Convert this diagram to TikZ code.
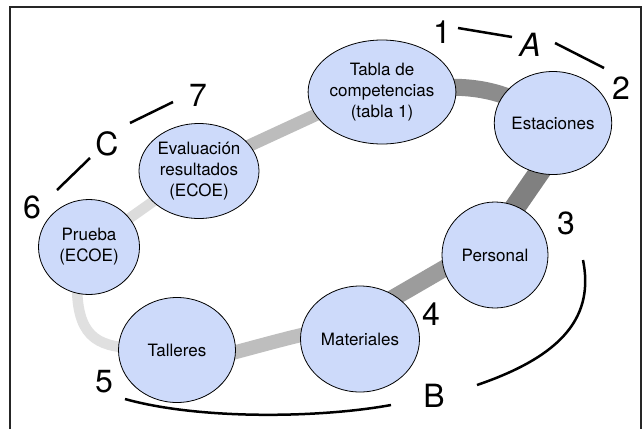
\documentclass[tikz,border=0pt]{standalone}
\usepackage{fontspec}
\setmainfont{TeX Gyre Heros}
\usetikzlibrary{shapes.geometric,backgrounds}
\definecolor{nodefill}{RGB}{205,218,250}
\definecolor{bandA}{RGB}{140,140,140}
\definecolor{bandB}{RGB}{128,128,128}
\definecolor{bandC}{RGB}{156,156,156}
\definecolor{bandD}{RGB}{190,190,190}
\definecolor{bandE}{RGB}{224,224,224}
\definecolor{bandF}{RGB}{220,220,220}
\definecolor{bandG}{RGB}{188,188,188}
\begin{document}
\begin{tikzpicture}[x=1pt,y=-1pt,
  stage/.style={ellipse, draw=black, line width=0.8pt, fill=nodefill, inner sep=0pt, align=center,
    font=\fontsize{17}{21}\selectfont},
  band/.style={line cap=butt},
  biglabel/.style={font=\fontsize{32}{32}\selectfont, inner sep=0pt},
  bracket/.style={line width=2.5pt, line cap=butt, black}]
\useasboundingbox (0,0) rectangle (644,429);

% stages
\node[stage, minimum width=127pt, minimum height=104pt] (tabla) at (382,92) {Tabla de\\competencias\\(tabla 1)};
\node[stage, minimum width=114pt, minimum height=103pt] (estaciones) at (553,123) {Estaciones};
\node[stage, minimum width=106pt, minimum height=106pt] (personal) at (495,255) {Personal};
\node[stage, minimum width=119pt, minimum height=106pt] (materiales) at (360,339) {Materiales};
\node[stage, minimum width=117pt, minimum height=105pt] (talleres) at (177,350) {Talleres};
\node[stage, minimum width=101pt, minimum height=95pt] (prueba) at (89,247) {Prueba\\(ECOE)};
\node[stage, minimum width=120pt, minimum height=95pt] (evaluacion) at (199,171) {Evaluación\\resultados\\(ECOE)};

% ring bands behind the stages
\begin{scope}[on background layer]
\fill[white] (0,0) rectangle (644,429);
\draw[band, bandA, line width=17pt] ([shift={(38,-2)}]tabla.center) .. controls (455,84) and (490,88) .. ([shift={(-38,-23)}]estaciones.center);
\draw[band, bandB, line width=21pt] ([shift={(3,25)}]estaciones.center) -- ([shift={(3,-23)}]personal.center);
\draw[band, bandC, line width=17pt] ([shift={(-25,-1.5)}]personal.center) -- ([shift={(15,-30.4)}]materiales.center);
\draw[band, bandD, line width=14pt] ([shift={(-30,-10)}]materiales.center) .. controls (290,336) and (240,352) .. ([shift={(23,11)}]talleres.center);
\draw[band, bandE, line width=10.5pt] ([shift={(-42,-2)}]talleres.center) .. controls (95,347) and (76,335) .. ([shift={(-12,33)}]prueba.center);
\draw[band, bandF, line width=10.5pt] ([shift={(21,-15)}]prueba.center) -- ([shift={(-24,15)}]evaluacion.center);
\draw[band, bandG, line width=12.5pt] ([shift={(31,-16.5)}]evaluacion.center) -- ([shift={(-37,9.4)}]tabla.center);
\draw[line width=1.3pt, black!85] (10,429) -- (10,7) -- (641,7) -- (641,429);
\end{scope}

% labels
\node[biglabel] (l1) at (442,32) {1};
\node[biglabel] (lA) at (530,45) {\itshape A};
\node[biglabel] (l2) at (621,88) {2};
\node[biglabel] (l3) at (566,223) {3};
\node[biglabel] (l4) at (431,314) {4};
\node[biglabel] (lB) at (434,396) {B};
\node[biglabel] (l5) at (104,382) {5};
\node[biglabel] (l6) at (32,207) {6};
\node[biglabel] (lC) at (107,144) {C};
\node[biglabel] (l7) at (198,95) {7};

% bracket ends
\coordinate (a1) at (458,28);
\coordinate (a2) at (512,37);
\coordinate (a3) at (555,43);
\coordinate (a4) at (604,68);
\coordinate (c1) at (130,123);
\coordinate (c2) at (173,102);
\coordinate (c3) at (90,158);
\coordinate (c4) at (57,190);
\coordinate (b1) at (583,260);
\coordinate (b2) at (477,385);
\coordinate (b3) at (125,399);
\coordinate (b4) at (391,405);

\draw[bracket] (a1) -- (a2);
\draw[bracket] (a3) -- (a4);
\draw[bracket] (c1) -- (c2);
\draw[bracket] (c3) -- (c4);
\draw[bracket] (b1) .. controls (594,315) and (565,355) .. (b2);
\draw[bracket] (b3) .. controls (200,420) and (320,418) .. (b4);
\end{tikzpicture}
\end{document}
